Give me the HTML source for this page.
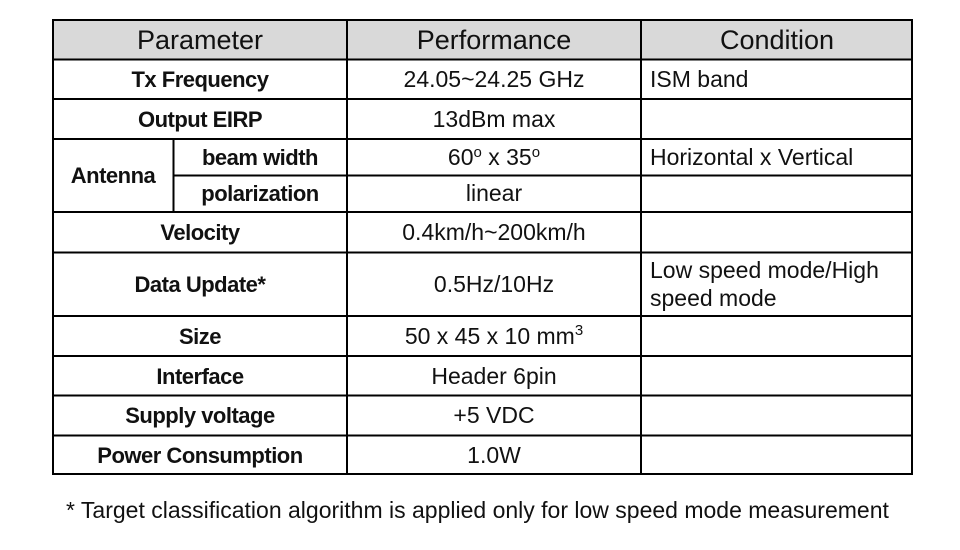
<!DOCTYPE html>
<html><head><style>
html,body{margin:0;padding:0;background:#fff;}
svg{display:block;}
text{font-family:"Liberation Sans",Arial,sans-serif;fill:#111;}
.h{font-size:27px;text-anchor:middle;}
.b{font-size:22px;font-weight:bold;text-anchor:middle;letter-spacing:-0.5px;}
.c{font-size:23px;text-anchor:middle;}
.l{font-size:23px;}
</style></head><body>
<svg width="960" height="550" viewBox="0 0 960 550">
<rect x="53" y="20" width="859" height="39.5" fill="#d9d9d9"/>
<g stroke="#000" stroke-width="2" fill="none">
<rect x="53" y="20" width="859" height="454"/>
<line x1="53" y1="59.5" x2="912" y2="59.5"/>
<line x1="53" y1="99" x2="912" y2="99"/>
<line x1="53" y1="139" x2="912" y2="139"/>
<line x1="173.5" y1="175.5" x2="912" y2="175.5"/>
<line x1="53" y1="212" x2="912" y2="212"/>
<line x1="53" y1="252.5" x2="912" y2="252.5"/>
<line x1="53" y1="316" x2="912" y2="316"/>
<line x1="53" y1="356" x2="912" y2="356"/>
<line x1="53" y1="395.5" x2="912" y2="395.5"/>
<line x1="53" y1="435.5" x2="912" y2="435.5"/>
<line x1="347" y1="20" x2="347" y2="474"/>
<line x1="641" y1="20" x2="641" y2="474"/>
<line x1="173.5" y1="139" x2="173.5" y2="212"/>
</g>
<text class="h" x="200" y="49">Parameter</text>
<text class="h" x="494" y="49">Performance</text>
<text class="h" x="777" y="49">Condition</text>

<text class="b" x="200" y="87">Tx Frequency</text>
<text class="b" x="200" y="127">Output EIRP</text>
<text class="b" x="113" y="183">Antenna</text>
<text class="b" x="260" y="165">beam width</text>
<text class="b" x="260" y="201">polarization</text>
<text class="b" x="200" y="240">Velocity</text>
<text class="b" x="200" y="292">Data Update*</text>
<text class="b" x="200" y="344">Size</text>
<text class="b" x="200" y="384">Interface</text>
<text class="b" x="200" y="423">Supply voltage</text>
<text class="b" x="200" y="463">Power Consumption</text>

<text class="c" x="494" y="87">24.05~24.25 GHz</text>
<text class="c" x="494" y="127">13dBm max</text>
<text class="c" x="494" y="165">60<tspan font-size="15" dy="-8">o</tspan><tspan dy="8"> x 35</tspan><tspan font-size="15" dy="-8">o</tspan></text>
<text class="c" x="494" y="201">linear</text>
<text class="c" x="494" y="240">0.4km/h~200km/h</text>
<text class="c" x="494" y="292">0.5Hz/10Hz</text>
<text class="c" x="494" y="344">50 x 45 x 10 mm<tspan font-size="15" dy="-9">3</tspan></text>
<text class="c" x="494" y="384">Header 6pin</text>
<text class="c" x="494" y="423">+5 VDC</text>
<text class="c" x="494" y="463">1.0W</text>

<text class="l" x="650" y="87">ISM band</text>
<text class="l" x="650" y="165">Horizontal x Vertical</text>
<text class="l" x="650" y="278">Low speed mode/High</text>
<text class="l" x="650" y="306">speed mode</text>

<text class="l" x="66" y="518">* Target classification algorithm is applied only for low speed mode measurement</text>
</svg>
</body></html>
